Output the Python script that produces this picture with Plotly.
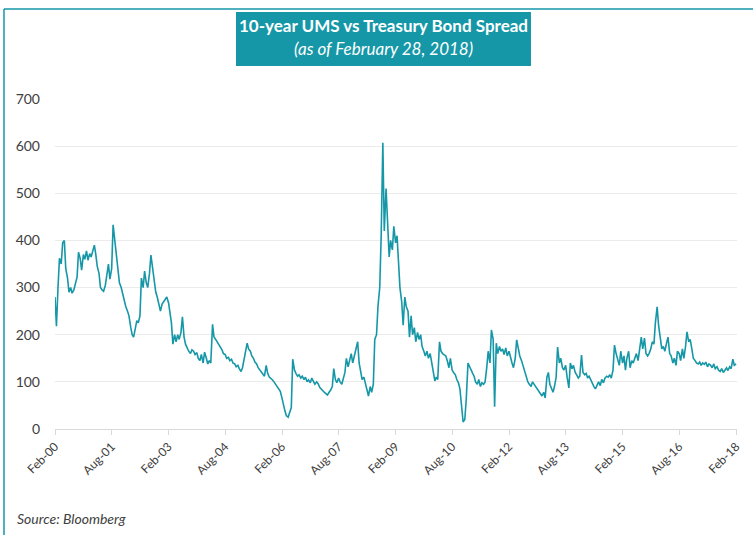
import pandas as pd
import plotly.graph_objects as go

# Semi-monthly readings (bp), Feb-2000 .. Feb-2018, one row per Feb-Jan year
spread_bp = [
    280, 218, 300, 362, 350, 395, 400, 340, 320, 290, 300, 288, 295, 305, 322, 375, 362, 337, 370, 360, 378, 358, 372, 365,
    380, 390, 370, 345, 330, 300, 295, 292, 305, 330, 350, 318, 340, 433, 400, 380, 350, 310, 300, 285, 270, 260, 250, 240,
    216, 200, 195, 210, 230, 225, 240, 320, 300, 335, 310, 300, 330, 369, 340, 310, 290, 280, 260, 250, 265, 270, 275, 280,
    268, 240, 225, 180, 200, 185, 200, 190, 205, 238, 195, 180, 170, 165, 160, 168, 165, 158, 162, 150, 145, 158, 140, 163,
    150, 138, 145, 140, 222, 195, 190, 185, 180, 172, 168, 160, 158, 150, 152, 145, 148, 140, 138, 132, 135, 128, 122, 130,
    150, 160, 182, 170, 165, 155, 150, 142, 138, 130, 125, 120, 115, 112, 135, 118, 110, 108, 104, 100, 95, 92, 85, 80,
    65, 50, 38, 28, 25, 35, 45, 148, 125, 118, 112, 115, 108, 112, 105, 110, 100, 104, 98, 108, 102, 95, 100, 96,
    88, 84, 80, 78, 75, 72, 78, 82, 90, 128, 105, 98, 108, 100, 95, 105, 120, 150, 132, 145, 160, 140, 155, 165,
    185, 140, 118, 105, 110, 95, 85, 70, 90, 78, 95, 190, 200, 260, 300, 410, 607, 420, 510, 440, 365, 400, 380, 430,
    395, 410, 340, 300, 270, 220, 280, 260, 250, 195, 240, 200, 215, 185, 205, 190, 200, 175, 165, 155, 165, 150, 160, 140,
    115, 102, 110, 105, 185, 165, 160, 158, 155, 145, 130, 150, 125, 120, 115, 105, 98, 85, 40, 15, 20, 62, 140, 132,
    125, 118, 112, 100, 95, 105, 90, 98, 95, 100, 130, 165, 140, 210, 190, 47, 182, 160, 175, 165, 170, 158, 172, 155,
    165, 150, 140, 130, 150, 189, 170, 155, 145, 135, 120, 110, 100, 95, 90, 100, 95, 88, 85, 80, 75, 70, 78, 66,
    110, 120, 95, 85, 78, 90, 110, 174, 140, 150, 130, 125, 135, 110, 87, 140, 128, 135, 120, 115, 108, 112, 157, 120,
    115, 118, 108, 112, 104, 95, 90, 85, 95, 100, 92, 105, 98, 108, 112, 110, 115, 108, 125, 178, 160, 150, 135, 165,
    140, 155, 125, 150, 165, 130, 145, 140, 150, 160, 145, 165, 195, 170, 193, 160, 155, 160, 170, 185, 180, 225, 259, 220,
    185, 170, 175, 165, 182, 195, 160, 155, 140, 150, 135, 165, 160, 145, 170, 150, 175, 206, 185, 190, 170, 150, 145, 140,
    138, 142, 135, 140, 137, 142, 132, 138, 135, 130, 138, 128, 132, 125, 122, 128, 120, 125, 130, 124, 132, 128, 148, 135,
    138,
]
dates = pd.date_range("2000-02-01", periods=len(spread_bp), freq="SMS")

tick_dates = ["2000-02-01", "2001-08-01", "2003-02-01", "2004-08-01", "2006-02-01", "2007-08-01",
              "2009-02-01", "2010-08-01", "2012-02-01", "2013-08-01", "2015-02-01", "2016-08-01", "2018-02-01"]
tick_labels = ["Feb-00", "Aug-01", "Feb-03", "Aug-04", "Feb-06", "Aug-07",
               "Feb-09", "Aug-10", "Feb-12", "Aug-13", "Feb-15", "Aug-16", "Feb-18"]
y_ticks = [0, 100, 200, 300, 400, 500, 600, 700]

TEAL = "#1597A7"
FONT = "Lato, Open Sans, sans-serif"

fig = go.Figure()
fig.add_trace(go.Scatter(x=dates, y=spread_bp, mode="lines",
                         line=dict(color=TEAL, width=1.6), showlegend=False))

fig.update_layout(
    width=753, height=535,
    margin=dict(l=55, r=16, t=99, b=106),
    paper_bgcolor="white", plot_bgcolor="white",
    font=dict(family=FONT, color="#404040"),
    xaxis=dict(range=["2000-02-01", "2018-02-10"], tickvals=tick_dates, ticktext=tick_labels,
               tickangle=-45, tickfont=dict(size=12, color="#404040"),
               showgrid=False, showline=True, linecolor="#d9d9d9", linewidth=1,
               ticks="outside", ticklen=5, tickcolor="#d9d9d9"),
    yaxis=dict(range=[0, 700], tickvals=y_ticks, tickfont=dict(size=14, color="#404040"),
               showgrid=True, gridcolor="#ebebeb", zeroline=False, showline=False,
               ticklabelstandoff=14),
)

# outer frame (top and left edges visible)
fig.add_shape(type="line", xref="paper", yref="paper", x0=-0.0748, x1=1.05, y0=1.2727, y1=1.2727,
              line=dict(color=TEAL, width=1.5))
fig.add_shape(type="line", xref="paper", yref="paper", x0=-0.0748, x1=-0.0748, y0=1.2727, y1=-0.35,
              line=dict(color=TEAL, width=1.5))
# title box
fig.add_shape(type="rect", xref="paper", yref="paper", x0=0.2654, x1=0.6979, y0=1.10, y1=1.2636,
              fillcolor=TEAL, line=dict(width=0))
fig.add_annotation(xref="paper", yref="paper", x=0.4817, y=1.2242, xanchor="center", yanchor="middle",
                   showarrow=False, text="<b>10-year UMS vs Treasury Bond Spread</b>",
                   font=dict(size=17, color="white", family=FONT))
fig.add_annotation(xref="paper", yref="paper", x=0.4817, y=1.1545, xanchor="center", yanchor="middle",
                   showarrow=False, text="<i>(as of February 28, 2018)</i>",
                   font=dict(size=17, color="white", family=FONT))
fig.add_annotation(xref="paper", yref="paper", x=-0.0587, y=-0.2727, xanchor="left", yanchor="middle",
                   showarrow=False, text="<i>Source: Bloomberg</i>",
                   font=dict(size=14, color="#404040", family=FONT))

fig.write_html("out.html", config={"displayModeBar": False},
               post_script="document.body.style.margin='0';")
